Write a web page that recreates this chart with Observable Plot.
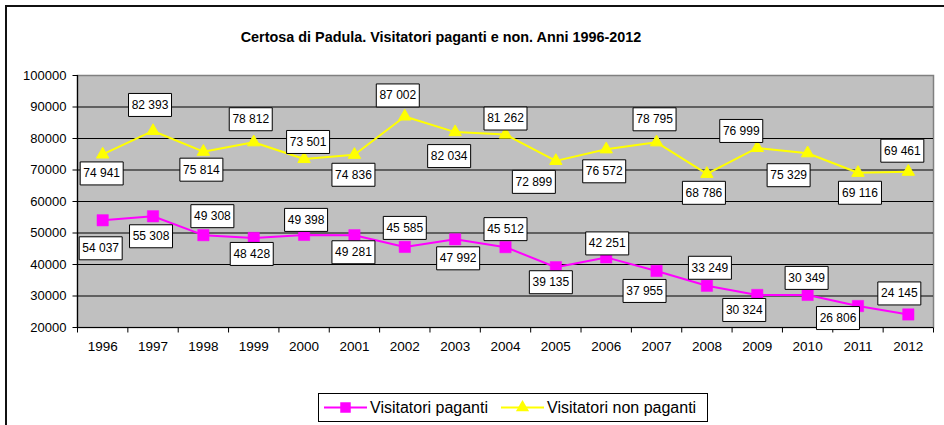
<!DOCTYPE html>
<html><head><meta charset="utf-8">
<script src="https://cdn.jsdelivr.net/npm/d3@7"></script>
<script src="https://cdn.jsdelivr.net/npm/@observablehq/plot@0.6"></script>
<style>
html,body{margin:0;padding:0;background:#fff;overflow:hidden;width:944px;height:425px}
#wrap{position:relative;width:944px;height:425px;overflow:hidden;font-family:"Liberation Sans",Arial,sans-serif}
#border{position:absolute;left:5px;top:5px;width:1000px;height:1000px;border:2px solid #111;box-sizing:border-box}
#title{position:absolute;left:0;width:882px;top:28px;text-align:center;font-weight:bold;font-size:14.4px;line-height:18px;color:#000}
#chart{position:absolute;left:0;top:0}
#legend{position:absolute;left:318px;top:393px;width:390px;height:29px;border:1px solid #000;box-sizing:border-box;background:#fff}
#legend svg{display:block}
</style></head>
<body>
<div id="wrap">
  <div id="border"></div>
  <div id="chart"></div>
  <div id="title">Certosa di Padula. Visitatori paganti e non. Anni 1996-2012</div>
  <div id="legend"></div>
</div>
<script>
// ---- data ----
const years = [1996,1997,1998,1999,2000,2001,2002,2003,2004,2005,2006,2007,2008,2009,2010,2011,2012];
const visitatoriPaganti = [54037,55308,49308,48428,49398,49281,45585,47992,45512,39135,42251,37955,33249,30324,30349,26806,24145];
const visitatoriNonPaganti = [74941,82393,75814,78812,73501,74836,87002,82034,81262,72899,76572,78795,68786,76999,75329,69116,69461];
const yTicks = [20000,30000,40000,50000,60000,70000,80000,90000,100000];
const seriesNames = ["Visitatori paganti","Visitatori non paganti"];
const seriesColors = ["#FF00FF","#FFFF00"];

// ---- label placement offsets (pixels) ----
const pagantiLabelDx = [-2,-2,9,-2,2,-1,0,3,0,-5,1,-12,3,-13,-1,-20,-9];
const pagantiLabelDy = [28,20,-19,16,-15,17,-19,19,-18,15,-14,20,-18,15,-17,12,-21];
const nonPagantiLabelDx = [-1,-3,-2,-3,4,-1,-7,-6,0,-22,-2,-2,-3,-16,-19,2,-6];
const nonPagantiLabelDy = [19,-26,18,-23,-17,20,-21,24,-16,21,22,-23,19,-17,22,20,-21];

const fmt = d3.formatLocale({thousands:" ", grouping:[3], decimal:",", currency:["",""]}).format(",d");

const rows = years.map((year,i)=>({year, paganti: visitatoriPaganti[i], nonPaganti: visitatoriNonPaganti[i]}));
const halfYears = [years[0]-0.5, ...years.map(y=>y+0.5)];

const boxSym = {draw(ctx){ ctx.rect(-21.5,-11.5,43,23); }};
const yTickSym = {draw(ctx){ ctx.moveTo(-5,0); ctx.lineTo(0,0); }};
const xTickSym = {draw(ctx){ ctx.moveTo(0,0); ctx.lineTo(0,5); }};

const labelMarks = [];
rows.forEach((r,i)=>{
  const specs = [
    {key:"paganti", dx: pagantiLabelDx[i], dy: pagantiLabelDy[i]},
    {key:"nonPaganti", dx: nonPagantiLabelDx[i], dy: nonPagantiLabelDy[i]}
  ];
  for (const s of specs) {
    labelMarks.push(Plot.dot([r], {x:"year", y:s.key, symbol: boxSym, r: 5, fill:"#fff", stroke:"#000", strokeWidth:1, dx:s.dx, dy:s.dy}));
    labelMarks.push(Plot.text([r], {x:"year", y:s.key, text: d=>fmt(d[s.key]), fill:"#000", fontSize:12, dx:s.dx, dy:s.dy}));
  }
});

const chart = Plot.plot({
  width: 944, height: 425,
  marginLeft: 77, marginRight: 11, marginTop: 75, marginBottom: 98,
  style: {fontFamily: '"Liberation Sans", Arial, sans-serif', background: "transparent", overflow: "visible"},
  x: {domain: [years[0]-0.5, years[years.length-1]+0.5], axis: null},
  y: {domain: [yTicks[0], yTicks[yTicks.length-1]], axis: null},
  marks: [
    Plot.frame({fill: "#C0C0C0", stroke: "#808080", strokeWidth: 1.5}),
    Plot.ruleY(yTicks.slice(1, -1), {stroke: "#000", strokeWidth: 1}),
    Plot.ruleY([yTicks[0]], {stroke: "#000", strokeWidth: 1.2}),
    Plot.ruleX([halfYears[0]], {stroke: "#000", strokeWidth: 1.2}),
    Plot.dot(yTicks, {x: () => halfYears[0], y: d => d, symbol: yTickSym, r: 5, fill: "none", stroke: "#000", strokeWidth: 1}),
    Plot.dot(halfYears, {x: d => d, y: () => yTicks[0], symbol: xTickSym, r: 5, fill: "none", stroke: "#000", strokeWidth: 1}),
    Plot.text(yTicks, {x: () => halfYears[0], y: d => d, text: d => String(d), textAnchor: "end", dx: -11, fontSize: 13, fill: "#000"}),
    Plot.text(years, {x: d => d, y: () => yTicks[0], text: d => String(d), dy: 19, fontSize: 13.5, fill: "#000"}),
    Plot.line(rows, {x: "year", y: "nonPaganti", stroke: seriesColors[1], strokeWidth: 2}),
    Plot.line(rows, {x: "year", y: "paganti", stroke: seriesColors[0], strokeWidth: 2}),
    Plot.dot(rows, {x: "year", y: "nonPaganti", symbol: "triangle", r: 4.6, fill: seriesColors[1], stroke: seriesColors[1], strokeWidth: 1}),
    Plot.dot(rows, {x: "year", y: "paganti", symbol: "square", r: 6.4, fill: seriesColors[0], stroke: seriesColors[0], strokeWidth: 0.5}),
    ...labelMarks
  ]
});
document.getElementById("chart").appendChild(chart);

// ---- legend ----
const lg = d3.select("#legend").append("svg").attr("width", 388).attr("height", 27);
const items = [
  {name: seriesNames[0], color: seriesColors[0], sym: d3.symbolSquare, size: 110, x0: 5},
  {name: seriesNames[1], color: seriesColors[1], sym: d3.symbolTriangle, size: 75, x0: 182}
];
for (const it of items) {
  lg.append("line").attr("x1", it.x0).attr("x2", it.x0 + 43).attr("y1", 13.5).attr("y2", 13.5)
    .attr("stroke", it.color).attr("stroke-width", 2);
  lg.append("path").attr("d", d3.symbol().type(it.sym).size(it.size)())
    .attr("transform", `translate(${it.x0 + 21.5},13.5)`).attr("fill", it.color);
  lg.append("text").attr("x", it.x0 + 46).attr("y", 13.5).attr("dy", "0.36em")
    .attr("font-family", '"Liberation Sans", Arial, sans-serif').attr("font-size", 16).attr("fill", "#000").text(it.name);
}
</script>
</body></html>
